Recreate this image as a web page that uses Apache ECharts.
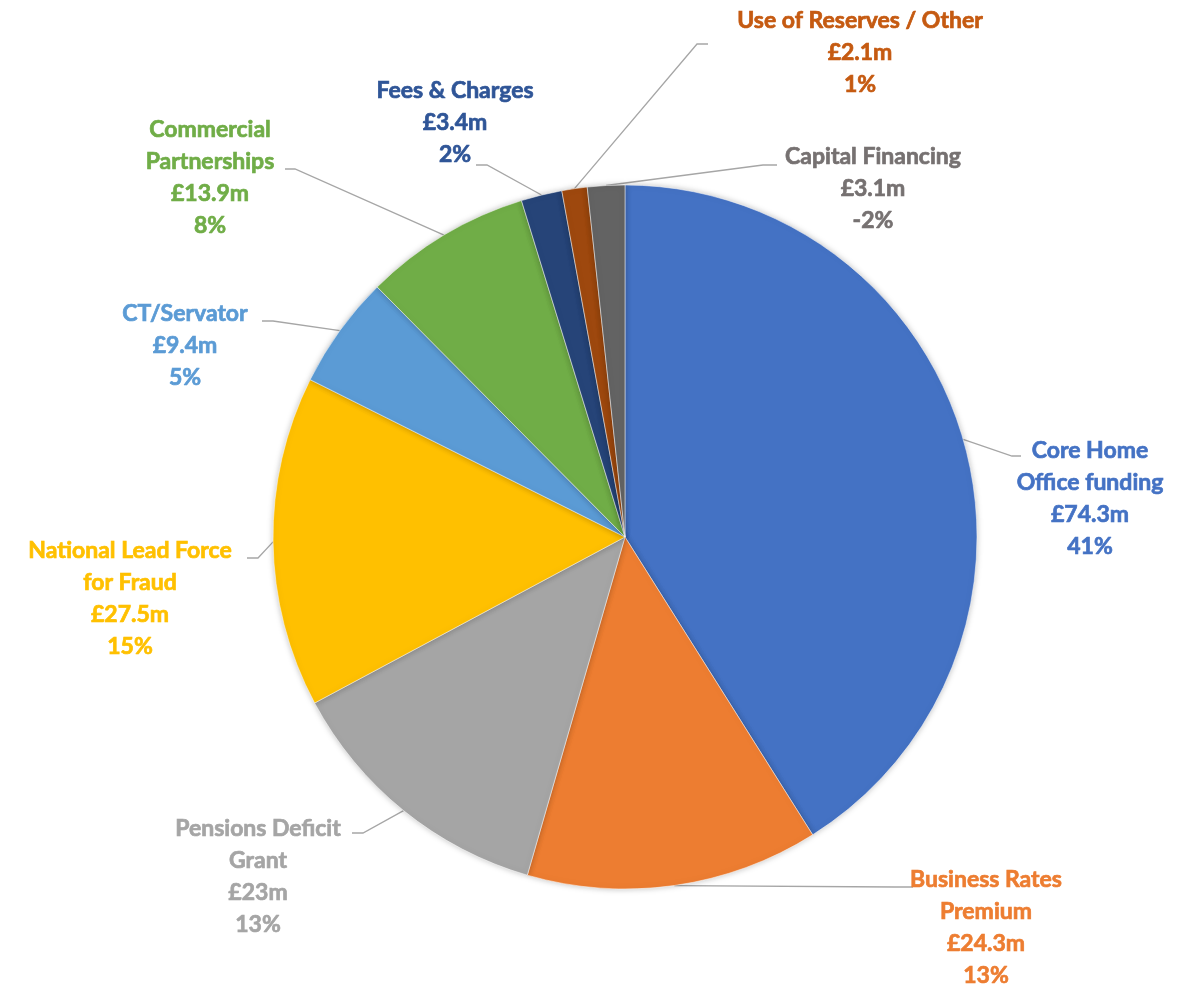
<!DOCTYPE html>
<html>
<head>
<meta charset="utf-8">
<script src="https://cdn.jsdelivr.net/npm/echarts@6/dist/echarts.min.js"></script>
<style>
    html, body { margin: 0; padding: 0; background: #fff; }
    #chart { width: 1196px; height: 988px; }
</style>
</head>
<body>
<div id="chart"></div>
<script>
// funding sources, clockwise from 12 o'clock
const categories = [
    'Core Home\nOffice funding',
    'Business Rates\nPremium',
    'Pensions Deficit\nGrant',
    'National Lead Force\nfor Fraud',
    'CT/Servator',
    'Commercial\nPartnerships',
    'Fees & Charges',
    'Use of Reserves / Other',
    'Capital Financing'
];
const amounts = [74.3, 24.3, 23, 27.5, 9.4, 13.9, 3.4, 2.1, 3.1];
const percentLabels = ['41%', '13%', '13%', '15%', '5%', '8%', '2%', '1%', '-2%'];

const sliceColors = ['#4472C4', '#ED7D31', '#A5A5A5', '#FFC000', '#5B9BD5', '#70AD47', '#264478', '#9E480E', '#636363'];
const textColors = ['#4472C4', '#ED7D31', '#A5A5A5', '#FFC000', '#5B9BD5', '#70AD47', '#2F5597', '#C55A11', '#767171'];

// label block centres, as laid out in the original
const labelSpots = [
    [1090, 499], [986, 928], [258, 877], [130, 599], [185, 346],
    [210, 178], [455, 123], [860, 53], [873, 189]
];
// leader line: elbow and end point next to the text
const leaderEnds = [
    [[1012, 456], [1021, 456]],
    [[895, 887], [913, 887]],
    [[363, 833], [352, 833]],
    [[258, 558], [247, 558]],
    [[273, 321], [262, 321]],
    [[295, 169], [285, 169]],
    [[487, 165], [476, 165]],
    [[697, 44], [708, 44]],
    [[763, 165], [777, 165]]
];

const chart = echarts.init(document.getElementById('chart'));

chart.setOption({
    animation: false,
    series: [{
        type: 'pie',
        center: [625, 537],
        radius: 352,
        startAngle: 90,
        clockwise: true,
        avoidLabelOverlap: false,
        itemStyle: {
            borderColor: '#fff',
            borderWidth: 0.5,
            shadowBlur: 6,
            shadowColor: 'rgba(0,0,0,0.25)'
        },
        label: {
            show: true,
            position: 'outside',
            fontFamily: 'Lato',
            fontWeight: 'bold',
            fontSize: 23,
            lineHeight: 32,
            align: 'center',
            textBorderWidth: 0.7,
            formatter: p => p.name + '\n£' + p.value + 'm\n' + percentLabels[p.dataIndex]
        },
        labelLine: {
            show: true,
            length: 20,
            length2: 20,
            minTurnAngle: 0,
            maxSurfaceAngle: 180,
            lineStyle: { color: '#A6A6A6', width: 1.3 }
        },
        labelLayout: params => {
            const i = params.dataIndex;
            const anchor = params.labelLinePoints ? params.labelLinePoints[0] : null;
            const out = {
                x: labelSpots[i][0],
                y: labelSpots[i][1],
                align: 'center',
                verticalAlign: 'middle'
            };
            if (anchor) {
                out.labelLinePoints = [anchor, leaderEnds[i][0], leaderEnds[i][1]];
            }
            return out;
        },
        data: categories.map((name, i) => ({
            name: name,
            value: amounts[i],
            itemStyle: { color: sliceColors[i] },
            label: { color: textColors[i], textBorderColor: textColors[i] }
        }))
    }]
});
</script>
</body>
</html>
